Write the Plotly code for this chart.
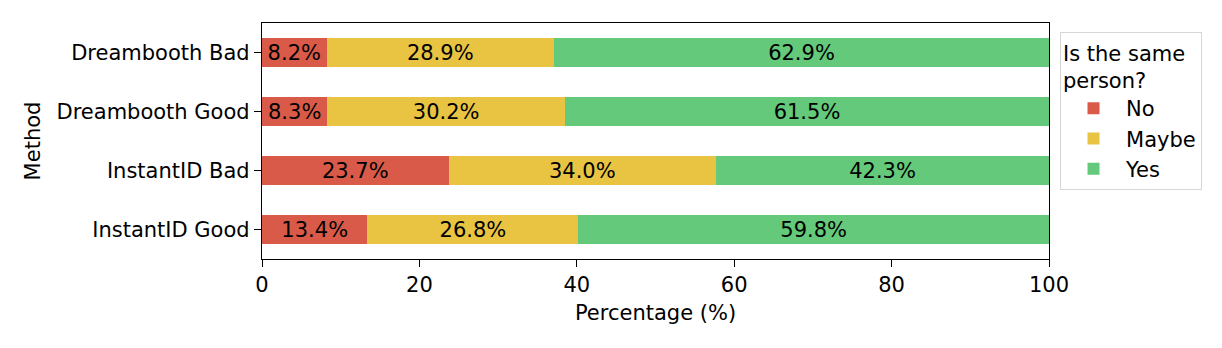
import plotly.graph_objects as go

methods = ["Dreambooth Bad", "Dreambooth Good", "InstantID Bad", "InstantID Good"]
no_vals = [8.2, 8.3, 23.7, 13.4]
maybe_vals = [28.9, 30.2, 34.0, 26.8]
yes_vals = [62.9, 61.5, 42.3, 59.8]
series_names = ["No", "Maybe", "Yes"]
colors = ["#d95a48", "#e8c442", "#64c97a"]
x_ticks = [0, 20, 40, 60, 80, 100]

FONT = "DejaVu Sans"
FS = 21
fig = go.Figure()
for name, vals, col in zip(series_names, [no_vals, maybe_vals, yes_vals], colors):
    fig.add_trace(go.Bar(
        y=methods, x=vals, name=name, orientation="h",
        marker=dict(color=col, line=dict(width=0)),
        width=0.5,
        text=[f"{v:.1f}%" for v in vals],
        textposition="inside", insidetextanchor="middle",
        textfont=dict(family=FONT, size=FS, color="black"),
        constraintext="none",
    ))

fig.update_layout(
    barmode="stack",
    width=1222, height=348,
    margin=dict(l=262, r=173, t=23, b=89),
    paper_bgcolor="white", plot_bgcolor="white",
    font=dict(family=FONT, size=FS, color="black"),
    legend=dict(
        x=1.014, xanchor="left", y=0.96, yanchor="top",
        title=dict(text="Is the same<br>person?", font=dict(family=FONT, size=FS)),
        traceorder="normal",
        bordercolor="#d6d6d6", borderwidth=1,
        font=dict(family=FONT, size=FS),
        itemwidth=55,
    ),
)
fig.update_xaxes(
    range=[0, 100], tickvals=x_ticks, ticks="outside", ticklen=7, tickwidth=1.3,
    tickcolor="black", showline=True, linecolor="black", linewidth=1.3, mirror=True,
    showgrid=False, zeroline=False,
    title=dict(text="Percentage (%)", font=dict(family=FONT, size=FS), standoff=8),
)
fig.update_yaxes(
    categoryorder="array", categoryarray=methods, autorange=False, range=[3.5, -0.5],
    ticks="outside", ticklen=7, tickwidth=1.3, tickcolor="black",
    showline=True, linecolor="black", linewidth=1.3, mirror=True,
    showgrid=False, zeroline=False,
    title=dict(text="Method", font=dict(family=FONT, size=FS), standoff=10),
)
fig.write_html("out.html")
